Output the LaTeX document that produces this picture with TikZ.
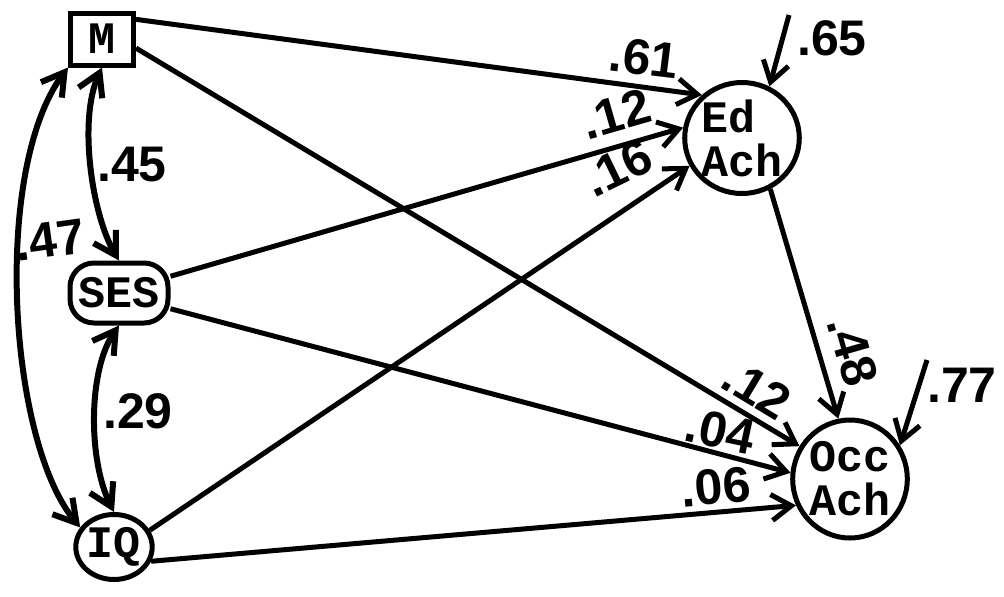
\documentclass[tikz,border=0pt]{standalone}
\usepackage{fontspec}
\setmainfont{Liberation Sans}
\newfontfamily\nodefont{Liberation Mono}
\usetikzlibrary{arrows.meta,shapes.geometric}
\begin{document}
\begin{tikzpicture}[x=1pt,y=-1pt,
  nd/.style={draw, line width=5pt, font=\nodefont\bfseries\fontsize{45}{44}\selectfont, inner sep=0pt, align=center},
  pathar/.style={line width=5pt, -{Straight Barb[length=20pt,width=26pt]}},
  biarrow/.style={line width=6pt, {Straight Barb[length=22pt,width=26pt]}-{Straight Barb[length=22pt,width=26pt]}},
  coef/.style={font=\bfseries\fontsize{50}{50}\selectfont, inner sep=0pt}]
\useasboundingbox (0,0) rectangle (1004,597);
% nodes
\node[nd, minimum width=63pt, minimum height=52pt] (M) at (102,39) {M};
\node[nd, rounded corners=24pt, minimum width=98pt, minimum height=60pt] (SES) at (119,293) {SES};
\node[nd, ellipse, minimum width=68pt, minimum height=65pt] (IQ) at (114,547) {IQ};
\node[nd, ellipse, minimum width=111pt, minimum height=111pt, align=left] (Ed) at (742,138) {Ed\\Ach};
\node[nd, ellipse, minimum width=113pt, minimum height=118pt] (Occ) at (850,479) {Occ\\Ach};
\coordinate (e1) at (789,15);
\coordinate (e2) at (927,360);
% correlations
\draw[biarrow] (M.south) .. controls (78,120) and (92,215) .. (SES.north);
\draw[biarrow] (SES.south) .. controls (88,370) and (88,460) .. (IQ.north);
\draw[biarrow] (M.south west) .. controls (-8,170) and (8,440) .. (IQ.150);
% paths
\draw[pathar] (M.30) -- (Ed.133);
\draw[pathar] (SES.18) -- (Ed.170);
\draw[pathar] (IQ.25) -- (Ed.208);
\draw[pathar] (e1) -- (Ed.62);
\draw[pathar] (M.-15) -- (Occ.147);
\draw[pathar] (SES.-17) -- (Occ.174);
\draw[pathar] (IQ.-21) -- (Occ.206);
\draw[pathar] (Ed.-61) -- (Occ.101);
\draw[pathar] (e2) -- (Occ.34);
% coefficients
\node[coef] (c45) at (132,165) {.45};
\node[coef, rotate=8] (c47) at (50,240) {.47};
\node[coef] (c29) at (138,411) {.29};
\node[coef, rotate=-7] (c61) at (644,58) {.61};
\node[coef, rotate=16] (c12a) at (616,114) {.12};
\node[coef, rotate=26] (c16) at (618,168) {.16};
\node[coef] (c65) at (832,38) {.65};
\node[coef, rotate=-74] (c48) at (853,351) {.48};
\node[coef, rotate=-31] (c12b) at (757,389) {.12};
\node[coef, rotate=-12] (c04) at (720,431) {.04};
\node[coef, rotate=5] (c06) at (716,487) {.06};
\node[coef] (c77) at (962,385) {.77};
\end{tikzpicture}
\end{document}
